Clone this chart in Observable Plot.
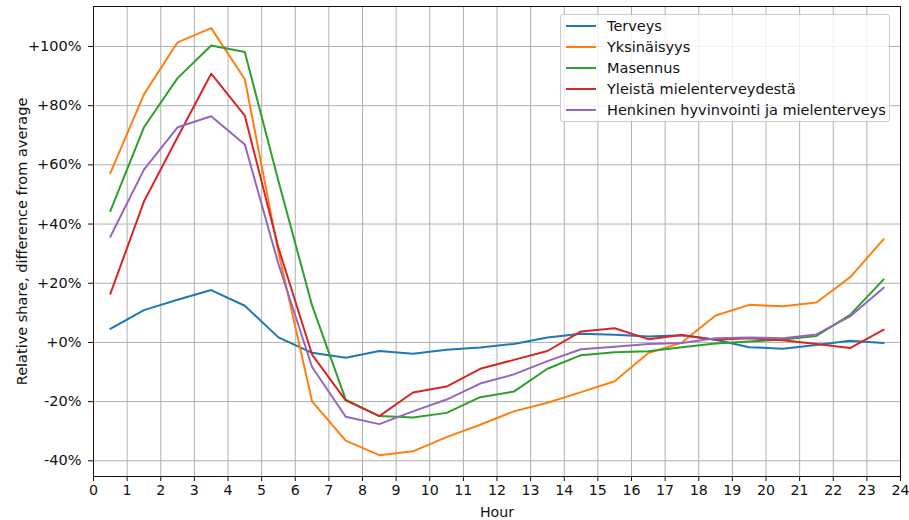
<!DOCTYPE html>
<html>
<head>
<meta charset="utf-8">
<script src="https://cdn.jsdelivr.net/npm/d3@7"></script>
<script src="https://cdn.jsdelivr.net/npm/@observablehq/plot@0.6"></script>
<style>
  html, body { margin: 0; padding: 0; background: #fff; }
  #wrap { position: relative; width: 909px; height: 520px; font-family: "DejaVu Sans", sans-serif; }
  #legend { position: absolute; left: 560px; top: 14px; width: 330px; height: 108px; box-sizing: border-box;
    background: rgba(255,255,255,0.8); border: 1px solid #ccc; border-radius: 3px; font-size: 14.5px; color: #111; }
  .row { position: absolute; left: 0; height: 20px; display: flex; align-items: center; white-space: nowrap; }
  .sw { display: inline-block; width: 30px; height: 2px; margin-left: 5px; margin-right: 11px; }
</style>
</head>
<body>
<div id="wrap"><div id="chart"></div><div id="legend"></div></div>
<script>
const hours = [0.5,1.5,2.5,3.5,4.5,5.5,6.5,7.5,8.5,9.5,10.5,11.5,12.5,13.5,14.5,15.5,16.5,17.5,18.5,19.5,20.5,21.5,22.5,23.5];
const seriesNames = ["Terveys", "Yksinäisyys", "Masennus", "Yleistä mielenterveydestä", "Henkinen hyvinvointi ja mielenterveys"];
const seriesColors = ["#1f77b4", "#ff7f0e", "#2ca02c", "#d62728", "#9467bd"];
const terveys = [4.6,10.9,14.4,17.7,12.4,1.7,-3.5,-5.2,-2.9,-3.8,-2.5,-1.7,-0.5,1.7,2.9,2.6,2.0,2.4,0.9,-1.6,-2.1,-0.9,0.6,-0.2];
const yksinaisyys = [57.2,83.8,101.4,106.2,88.9,30.5,-19.9,-33.2,-38.1,-36.8,-32.0,-27.8,-23.3,-20.4,-16.8,-13.1,-3.6,0.0,9.1,12.7,12.2,13.5,22.0,34.9];
const masennus = [44.4,72.7,89.3,100.3,98.1,54.5,12.5,-19.3,-24.9,-25.4,-23.8,-18.5,-16.6,-8.9,-4.3,-3.3,-3.0,-1.6,-0.4,0.3,1.0,2.2,9.3,21.3];
const yleista = [16.4,47.6,69.3,90.8,76.6,32.0,-4.1,-19.6,-24.9,-16.9,-14.9,-8.9,-5.9,-2.9,3.7,4.8,1.1,2.5,0.9,1.4,0.7,-0.5,-1.9,4.3];
const henkinen = [35.7,58.4,72.7,76.4,66.9,26.5,-8.3,-25.1,-27.6,-23.3,-19.3,-13.9,-10.8,-6.3,-2.3,-1.5,-0.5,-0.2,1.4,1.7,1.4,2.7,8.8,18.5];
const xTicks = d3.range(0, 25);
const yTicks = [-40, -20, 0, 20, 40, 60, 80, 100];

const seriesValues = [terveys, yksinaisyys, masennus, yleista, henkinen];
const rows = [];
seriesNames.forEach((name, i) => hours.forEach((h, j) => rows.push({series: name, hour: h, value: seriesValues[i][j]})));

const fmtY = d => (d >= 0 ? "+" : "-") + Math.abs(d) + "%";

const chart = Plot.plot({
  width: 909,
  height: 520,
  marginLeft: 93,
  marginRight: 9,
  marginTop: 6,
  marginBottom: 44,
  style: {fontFamily: "DejaVu Sans, sans-serif", fontSize: "14.2px", color: "#111", background: "#fff"},
  x: {domain: [0, 24]},
  y: {domain: [-45.3, 113.5]},
  color: {domain: seriesNames, range: seriesColors},
  marks: [
    Plot.gridX(xTicks, {stroke: "#b0b0b0", strokeOpacity: 1, strokeWidth: 1}),
    Plot.gridY(yTicks, {stroke: "#b0b0b0", strokeOpacity: 1, strokeWidth: 1}),
    Plot.line(rows, {x: "hour", y: "value", z: "series", stroke: "series", strokeWidth: 2, strokeLinejoin: "round"}),
    Plot.frame({stroke: "#111", strokeWidth: 1}),
    Plot.axisX(xTicks, {tickSize: 5, tickPadding: 3, tickFormat: d => String(d), label: "Hour", labelAnchor: "center", labelOffset: 40, labelArrow: false}),
    Plot.axisY(yTicks, {tickSize: 5, tickPadding: 7, tickFormat: fmtY, label: "Relative share, difference from average", labelAnchor: "center", labelOffset: 77, labelArrow: false, fontSize: "14.5px"})
  ]
});
document.getElementById("chart").appendChild(chart);

const legend = document.getElementById("legend");
seriesNames.forEach((name, i) => {
  const r = document.createElement("div");
  r.className = "row";
  r.style.top = (i * 21 + 1) + "px";
  const sw = document.createElement("span");
  sw.className = "sw";
  sw.style.background = seriesColors[i];
  const t = document.createElement("span");
  t.textContent = name;
  r.appendChild(sw); r.appendChild(t);
  legend.appendChild(r);
});
</script>
</body>
</html>
